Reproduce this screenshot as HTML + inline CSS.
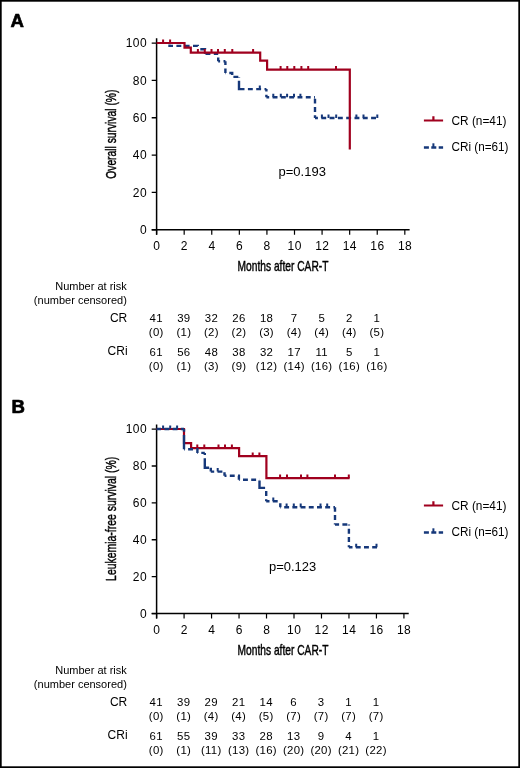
<!DOCTYPE html>
<html><head><meta charset="utf-8"><style>
html,body{margin:0;padding:0;background:#fff;}
body{width:520px;height:768px;overflow:hidden;}
svg{display:block;will-change:transform;}
text{font-family:"Liberation Sans", sans-serif;fill:#000;}
.cond{stroke:#000;stroke-width:0.45px;}
</style></head><body>
<svg width="520" height="768" viewBox="0 0 520 768">
<rect x="0" y="0" width="520" height="768" fill="#fff"/>
<rect x="0.85" y="0.85" width="518.3" height="766.3" fill="none" stroke="#000" stroke-width="1.7"/>
<text x="10.6" y="26.75" font-size="18.6" font-weight="bold" stroke="#000" stroke-width="0.7" stroke-linejoin="round">A</text>
<path d="M156.6 38.349999999999994 V234.70000000000002 M151.7 229.8 H409.61999999999995" stroke="#000" stroke-width="1.5" fill="none"/>
<path d="M151.7 229.80 H156.6 M151.7 192.45 H156.6 M151.7 155.10 H156.6 M151.7 117.75 H156.6 M151.7 80.40 H156.6 M151.7 43.05 H156.6 " stroke="#000" stroke-width="1.3" fill="none"/>
<path d="M156.60 229.8 V234.70000000000002 M184.18 229.8 V234.70000000000002 M211.76 229.8 V234.70000000000002 M239.34 229.8 V234.70000000000002 M266.92 229.8 V234.70000000000002 M294.50 229.8 V234.70000000000002 M322.08 229.8 V234.70000000000002 M349.66 229.8 V234.70000000000002 M377.24 229.8 V234.70000000000002 M404.82 229.8 V234.70000000000002 " stroke="#000" stroke-width="1.2" fill="none"/>
<text x="147.0" y="234.10" font-size="12" letter-spacing="0.4" text-anchor="end">0</text>
<text x="147.0" y="196.75" font-size="12" letter-spacing="0.4" text-anchor="end">20</text>
<text x="147.0" y="159.40" font-size="12" letter-spacing="0.4" text-anchor="end">40</text>
<text x="147.0" y="122.05" font-size="12" letter-spacing="0.4" text-anchor="end">60</text>
<text x="147.0" y="84.70" font-size="12" letter-spacing="0.4" text-anchor="end">80</text>
<text x="147.0" y="47.35" font-size="12" letter-spacing="0.4" text-anchor="end">100</text>
<text x="156.80" y="250.30" font-size="12" letter-spacing="0.4" text-anchor="middle">0</text>
<text x="184.38" y="250.30" font-size="12" letter-spacing="0.4" text-anchor="middle">2</text>
<text x="211.96" y="250.30" font-size="12" letter-spacing="0.4" text-anchor="middle">4</text>
<text x="239.54" y="250.30" font-size="12" letter-spacing="0.4" text-anchor="middle">6</text>
<text x="267.12" y="250.30" font-size="12" letter-spacing="0.4" text-anchor="middle">8</text>
<text x="294.70" y="250.30" font-size="12" letter-spacing="0.4" text-anchor="middle">10</text>
<text x="322.28" y="250.30" font-size="12" letter-spacing="0.4" text-anchor="middle">12</text>
<text x="349.86" y="250.30" font-size="12" letter-spacing="0.4" text-anchor="middle">14</text>
<text x="377.44" y="250.30" font-size="12" letter-spacing="0.4" text-anchor="middle">16</text>
<text x="405.02" y="250.30" font-size="12" letter-spacing="0.4" text-anchor="middle">18</text>
<text x="237.6" y="270.70" font-size="15" textLength="90.8" lengthAdjust="spacingAndGlyphs" class="cond">Months after CAR-T</text>
<text transform="translate(116.2 178.75) rotate(-90)" x="0" y="0" font-size="15.2" textLength="89.15" lengthAdjust="spacingAndGlyphs" class="cond">Overall survival (%)</text>
<text x="278.5" y="176.0" font-size="12" textLength="47.4" lengthAdjust="spacingAndGlyphs">p=0.193</text>
<path d="M423.9 120.5 H443.1 M433.4 120.5 V116.3" stroke="#a0001e" stroke-width="2.2" fill="none"/>
<path d="M423.9 147.5 H443.1" stroke="#16387a" stroke-width="2.4" stroke-dasharray="5 2.4" fill="none"/>
<path d="M433.4 147.5 V143.3" stroke="#16387a" stroke-width="2" fill="none"/>
<text x="451.5" y="124.6" font-size="12" textLength="55" lengthAdjust="spacingAndGlyphs">CR (n=41)</text>
<text x="451.5" y="151.2" font-size="12" textLength="57" lengthAdjust="spacingAndGlyphs">CRi (n=61)</text>
<text x="126.8" y="289.6" font-size="11" text-anchor="end">Number at risk</text>
<text x="126.8" y="303.8" font-size="11" text-anchor="end">(number censored)</text>
<text x="127.3" y="321.5" font-size="12" text-anchor="end">CR</text>
<text x="127.6" y="355.2" font-size="12" text-anchor="end">CRi</text>
<text x="156.25" y="321.80" font-size="11.4" letter-spacing="0.3" text-anchor="middle">41</text>
<text x="183.83" y="321.80" font-size="11.4" letter-spacing="0.3" text-anchor="middle">39</text>
<text x="211.41" y="321.80" font-size="11.4" letter-spacing="0.3" text-anchor="middle">32</text>
<text x="238.99" y="321.80" font-size="11.4" letter-spacing="0.3" text-anchor="middle">26</text>
<text x="266.57" y="321.80" font-size="11.4" letter-spacing="0.3" text-anchor="middle">18</text>
<text x="294.15" y="321.80" font-size="11.4" letter-spacing="0.3" text-anchor="middle">7</text>
<text x="321.73" y="321.80" font-size="11.4" letter-spacing="0.3" text-anchor="middle">5</text>
<text x="349.31" y="321.80" font-size="11.4" letter-spacing="0.3" text-anchor="middle">2</text>
<text x="376.89" y="321.80" font-size="11.4" letter-spacing="0.3" text-anchor="middle">1</text>
<text x="156.25" y="335.80" font-size="11.4" letter-spacing="0.3" text-anchor="middle">(0)</text>
<text x="183.83" y="335.80" font-size="11.4" letter-spacing="0.3" text-anchor="middle">(1)</text>
<text x="211.41" y="335.80" font-size="11.4" letter-spacing="0.3" text-anchor="middle">(2)</text>
<text x="238.99" y="335.80" font-size="11.4" letter-spacing="0.3" text-anchor="middle">(2)</text>
<text x="266.57" y="335.80" font-size="11.4" letter-spacing="0.3" text-anchor="middle">(3)</text>
<text x="294.15" y="335.80" font-size="11.4" letter-spacing="0.3" text-anchor="middle">(4)</text>
<text x="321.73" y="335.80" font-size="11.4" letter-spacing="0.3" text-anchor="middle">(4)</text>
<text x="349.31" y="335.80" font-size="11.4" letter-spacing="0.3" text-anchor="middle">(4)</text>
<text x="376.89" y="335.80" font-size="11.4" letter-spacing="0.3" text-anchor="middle">(5)</text>
<text x="156.25" y="355.80" font-size="11.4" letter-spacing="0.3" text-anchor="middle">61</text>
<text x="183.83" y="355.80" font-size="11.4" letter-spacing="0.3" text-anchor="middle">56</text>
<text x="211.41" y="355.80" font-size="11.4" letter-spacing="0.3" text-anchor="middle">48</text>
<text x="238.99" y="355.80" font-size="11.4" letter-spacing="0.3" text-anchor="middle">38</text>
<text x="266.57" y="355.80" font-size="11.4" letter-spacing="0.3" text-anchor="middle">32</text>
<text x="294.15" y="355.80" font-size="11.4" letter-spacing="0.3" text-anchor="middle">17</text>
<text x="321.73" y="355.80" font-size="11.4" letter-spacing="0.3" text-anchor="middle">11</text>
<text x="349.31" y="355.80" font-size="11.4" letter-spacing="0.3" text-anchor="middle">5</text>
<text x="376.89" y="355.80" font-size="11.4" letter-spacing="0.3" text-anchor="middle">1</text>
<text x="156.25" y="369.70" font-size="11.4" letter-spacing="0.3" text-anchor="middle">(0)</text>
<text x="183.83" y="369.70" font-size="11.4" letter-spacing="0.3" text-anchor="middle">(1)</text>
<text x="211.41" y="369.70" font-size="11.4" letter-spacing="0.3" text-anchor="middle">(3)</text>
<text x="238.99" y="369.70" font-size="11.4" letter-spacing="0.3" text-anchor="middle">(9)</text>
<text x="266.57" y="369.70" font-size="11.4" letter-spacing="0.3" text-anchor="middle">(12)</text>
<text x="294.15" y="369.70" font-size="11.4" letter-spacing="0.3" text-anchor="middle">(14)</text>
<text x="321.73" y="369.70" font-size="11.4" letter-spacing="0.3" text-anchor="middle">(16)</text>
<text x="349.31" y="369.70" font-size="11.4" letter-spacing="0.3" text-anchor="middle">(16)</text>
<text x="376.89" y="369.70" font-size="11.4" letter-spacing="0.3" text-anchor="middle">(16)</text>
<path d="M169.50 44.50 L169.50 45.90 L173.00 45.90 M176.40 45.90 L181.30 45.90 M184.70 45.90 L189.60 45.90 M193.00 45.90 L197.80 45.90 L197.80 46.00 M200.30 49.30 L205.00 49.30 L205.00 49.50 M205.00 52.90 L205.00 53.90 M205.50 53.90 L210.40 53.90 M213.80 53.90 L218.20 53.90 M218.20 53.90 L218.20 54.10 M218.20 57.50 L218.20 61.20 M218.20 61.20 L220.10 61.20 M223.50 61.20 L225.40 61.20 M225.40 61.20 L225.40 65.10 M225.40 68.50 L225.40 73.00 M225.40 73.00 L225.90 73.00 M229.30 73.00 L232.20 73.00 L232.20 75.00 M233.40 76.90 L238.30 76.90 M239.00 76.90 L239.00 77.40 M239.00 80.80 L239.00 85.70 M239.60 89.10 L244.50 89.10 M247.90 89.10 L252.80 89.10 M256.20 89.10 L261.10 89.10 M264.50 89.10 L266.40 89.10 M266.40 89.10 L266.40 91.40 M266.40 94.80 L266.40 97.30 M266.40 97.30 L269.20 97.30 M272.60 97.30 L277.50 97.30 M280.90 97.30 L285.80 97.30 M289.20 97.30 L294.10 97.30 M297.50 97.30 L302.40 97.30 M305.80 97.30 L310.70 97.30 M314.10 97.30 L315.00 97.30 M315.00 98.70 L315.00 103.60 M315.00 107.00 L315.00 111.90 M315.00 115.30 L315.00 118.00 M315.00 118.00 L317.90 118.00 M321.30 118.00 L326.20 118.00 M329.60 118.00 L334.50 118.00 M337.90 118.00 L342.80 118.00 M346.20 118.00 L351.10 118.00 M354.50 118.00 L359.40 118.00 M362.80 118.00 L367.70 118.00 M371.10 118.00 L376.00 118.00 M239 80.8 V89.1 H244.1 " stroke="#16387a" stroke-width="2.4" fill="none" stroke-linejoin="miter"/>
<path d="M259.8 89.1 V85.5 M273.3 97.3 V93.7 M280.8 97.3 V93.7 M287.1 97.3 V93.7 M294 97.3 V93.7 M300.4 97.3 V93.7 M321.9 118 V114.4 M328.5 118 V114.4 M336.2 118 V114.4 M356.4 118 V114.4 M363.5 118 V114.4 M377.3 118 V114.4 " stroke="#16387a" stroke-width="2" fill="none"/>
<path d="M156.6 43 H184.5 V47.6 H190.8 V52.6 H260.2 V60.6 H267.1 V69.7 H349.8 V149.5" stroke="#a0001e" stroke-width="2.2" fill="none" stroke-linejoin="miter"/>
<path d="M163.1 43 V39.4 M170.1 43 V39.4 M197.9 52.6 V49.0 M204.8 52.6 V49.0 M211.5 52.6 V49.0 M218 52.6 V49.0 M224.8 52.6 V49.0 M232.3 52.6 V49.0 M253.1 52.6 V49.0 M280.6 69.7 V66.10000000000001 M287.3 69.7 V66.10000000000001 M294.3 69.7 V66.10000000000001 M301.4 69.7 V66.10000000000001 M308.2 69.7 V66.10000000000001 M336 69.7 V66.10000000000001 " stroke="#a0001e" stroke-width="2" fill="none"/>
<text x="11.6" y="412.7" font-size="18.6" font-weight="bold" stroke="#000" stroke-width="0.7" stroke-linejoin="round">B</text>
<path d="M156.6 424.40000000000003 V618.4499999999999 M151.7 613.55 H408.71999999999997" stroke="#000" stroke-width="1.5" fill="none"/>
<path d="M151.7 613.55 H156.6 M151.7 576.66 H156.6 M151.7 539.77 H156.6 M151.7 502.88 H156.6 M151.7 465.99 H156.6 M151.7 429.10 H156.6 " stroke="#000" stroke-width="1.3" fill="none"/>
<path d="M156.60 613.55 V618.4499999999999 M184.08 613.55 V618.4499999999999 M211.56 613.55 V618.4499999999999 M239.04 613.55 V618.4499999999999 M266.52 613.55 V618.4499999999999 M294.00 613.55 V618.4499999999999 M321.48 613.55 V618.4499999999999 M348.96 613.55 V618.4499999999999 M376.44 613.55 V618.4499999999999 M403.92 613.55 V618.4499999999999 " stroke="#000" stroke-width="1.2" fill="none"/>
<text x="147.0" y="617.85" font-size="12" letter-spacing="0.4" text-anchor="end">0</text>
<text x="147.0" y="580.96" font-size="12" letter-spacing="0.4" text-anchor="end">20</text>
<text x="147.0" y="544.07" font-size="12" letter-spacing="0.4" text-anchor="end">40</text>
<text x="147.0" y="507.18" font-size="12" letter-spacing="0.4" text-anchor="end">60</text>
<text x="147.0" y="470.29" font-size="12" letter-spacing="0.4" text-anchor="end">80</text>
<text x="147.0" y="433.40" font-size="12" letter-spacing="0.4" text-anchor="end">100</text>
<text x="156.80" y="634.05" font-size="12" letter-spacing="0.4" text-anchor="middle">0</text>
<text x="184.28" y="634.05" font-size="12" letter-spacing="0.4" text-anchor="middle">2</text>
<text x="211.76" y="634.05" font-size="12" letter-spacing="0.4" text-anchor="middle">4</text>
<text x="239.24" y="634.05" font-size="12" letter-spacing="0.4" text-anchor="middle">6</text>
<text x="266.72" y="634.05" font-size="12" letter-spacing="0.4" text-anchor="middle">8</text>
<text x="294.20" y="634.05" font-size="12" letter-spacing="0.4" text-anchor="middle">10</text>
<text x="321.68" y="634.05" font-size="12" letter-spacing="0.4" text-anchor="middle">12</text>
<text x="349.16" y="634.05" font-size="12" letter-spacing="0.4" text-anchor="middle">14</text>
<text x="376.64" y="634.05" font-size="12" letter-spacing="0.4" text-anchor="middle">16</text>
<text x="404.12" y="634.05" font-size="12" letter-spacing="0.4" text-anchor="middle">18</text>
<text x="237.6" y="655.10" font-size="15" textLength="90.8" lengthAdjust="spacingAndGlyphs" class="cond">Months after CAR-T</text>
<text transform="translate(116.2 580.90) rotate(-90)" x="0" y="0" font-size="15.2" textLength="124.10" lengthAdjust="spacingAndGlyphs" class="cond">Leukemia-free survival (%)</text>
<text x="269.0" y="571.0" font-size="12" textLength="47.2" lengthAdjust="spacingAndGlyphs">p=0.123</text>
<path d="M423.9 505.5 H443.1 M433.4 505.5 V501.3" stroke="#a0001e" stroke-width="2.2" fill="none"/>
<path d="M423.9 532.5 H443.1" stroke="#16387a" stroke-width="2.4" stroke-dasharray="5 2.4" fill="none"/>
<path d="M433.4 532.5 V528.3" stroke="#16387a" stroke-width="2" fill="none"/>
<text x="451.5" y="509.6" font-size="12" textLength="55" lengthAdjust="spacingAndGlyphs">CR (n=41)</text>
<text x="451.5" y="536.2" font-size="12" textLength="57" lengthAdjust="spacingAndGlyphs">CRi (n=61)</text>
<text x="126.8" y="673.6" font-size="11" text-anchor="end">Number at risk</text>
<text x="126.8" y="687.8" font-size="11" text-anchor="end">(number censored)</text>
<text x="127.3" y="705.5" font-size="12" text-anchor="end">CR</text>
<text x="127.6" y="739.2" font-size="12" text-anchor="end">CRi</text>
<text x="156.25" y="705.80" font-size="11.4" letter-spacing="0.3" text-anchor="middle">41</text>
<text x="183.73" y="705.80" font-size="11.4" letter-spacing="0.3" text-anchor="middle">39</text>
<text x="211.21" y="705.80" font-size="11.4" letter-spacing="0.3" text-anchor="middle">29</text>
<text x="238.69" y="705.80" font-size="11.4" letter-spacing="0.3" text-anchor="middle">21</text>
<text x="266.17" y="705.80" font-size="11.4" letter-spacing="0.3" text-anchor="middle">14</text>
<text x="293.65" y="705.80" font-size="11.4" letter-spacing="0.3" text-anchor="middle">6</text>
<text x="321.13" y="705.80" font-size="11.4" letter-spacing="0.3" text-anchor="middle">3</text>
<text x="348.61" y="705.80" font-size="11.4" letter-spacing="0.3" text-anchor="middle">1</text>
<text x="376.09" y="705.80" font-size="11.4" letter-spacing="0.3" text-anchor="middle">1</text>
<text x="156.25" y="719.80" font-size="11.4" letter-spacing="0.3" text-anchor="middle">(0)</text>
<text x="183.73" y="719.80" font-size="11.4" letter-spacing="0.3" text-anchor="middle">(1)</text>
<text x="211.21" y="719.80" font-size="11.4" letter-spacing="0.3" text-anchor="middle">(4)</text>
<text x="238.69" y="719.80" font-size="11.4" letter-spacing="0.3" text-anchor="middle">(4)</text>
<text x="266.17" y="719.80" font-size="11.4" letter-spacing="0.3" text-anchor="middle">(5)</text>
<text x="293.65" y="719.80" font-size="11.4" letter-spacing="0.3" text-anchor="middle">(7)</text>
<text x="321.13" y="719.80" font-size="11.4" letter-spacing="0.3" text-anchor="middle">(7)</text>
<text x="348.61" y="719.80" font-size="11.4" letter-spacing="0.3" text-anchor="middle">(7)</text>
<text x="376.09" y="719.80" font-size="11.4" letter-spacing="0.3" text-anchor="middle">(7)</text>
<text x="156.25" y="739.80" font-size="11.4" letter-spacing="0.3" text-anchor="middle">61</text>
<text x="183.73" y="739.80" font-size="11.4" letter-spacing="0.3" text-anchor="middle">55</text>
<text x="211.21" y="739.80" font-size="11.4" letter-spacing="0.3" text-anchor="middle">39</text>
<text x="238.69" y="739.80" font-size="11.4" letter-spacing="0.3" text-anchor="middle">33</text>
<text x="266.17" y="739.80" font-size="11.4" letter-spacing="0.3" text-anchor="middle">28</text>
<text x="293.65" y="739.80" font-size="11.4" letter-spacing="0.3" text-anchor="middle">13</text>
<text x="321.13" y="739.80" font-size="11.4" letter-spacing="0.3" text-anchor="middle">9</text>
<text x="348.61" y="739.80" font-size="11.4" letter-spacing="0.3" text-anchor="middle">4</text>
<text x="376.09" y="739.80" font-size="11.4" letter-spacing="0.3" text-anchor="middle">1</text>
<text x="156.25" y="753.70" font-size="11.4" letter-spacing="0.3" text-anchor="middle">(0)</text>
<text x="183.73" y="753.70" font-size="11.4" letter-spacing="0.3" text-anchor="middle">(1)</text>
<text x="211.21" y="753.70" font-size="11.4" letter-spacing="0.3" text-anchor="middle">(11)</text>
<text x="238.69" y="753.70" font-size="11.4" letter-spacing="0.3" text-anchor="middle">(13)</text>
<text x="266.17" y="753.70" font-size="11.4" letter-spacing="0.3" text-anchor="middle">(16)</text>
<text x="293.65" y="753.70" font-size="11.4" letter-spacing="0.3" text-anchor="middle">(20)</text>
<text x="321.13" y="753.70" font-size="11.4" letter-spacing="0.3" text-anchor="middle">(20)</text>
<text x="348.61" y="753.70" font-size="11.4" letter-spacing="0.3" text-anchor="middle">(21)</text>
<text x="376.09" y="753.70" font-size="11.4" letter-spacing="0.3" text-anchor="middle">(22)</text>
<path d="M156.5 429 H184 V443.2 H191.1 V448.1 H239.1 V456.1 H266.4 V478.2 H349.6" stroke="#a0001e" stroke-width="2.2" fill="none" stroke-linejoin="miter"/>
<path d="M197.3 448.1 V444.5 M204.3 448.1 V444.5 M218.5 448.1 V444.5 M225 448.1 V444.5 M231.9 448.1 V444.5 M252.7 456.1 V452.5 M259.4 456.1 V452.5 M280.1 478.2 V474.59999999999997 M287 478.2 V474.59999999999997 M301 478.2 V474.59999999999997 M307.4 478.2 V474.59999999999997 M335 478.2 V474.59999999999997 M348.8 478.2 V474.59999999999997 " stroke="#a0001e" stroke-width="2" fill="none"/>
<path d="M156.50 429.00 L161.10 429.00 M164.40 429.00 L169.30 429.00 M172.60 429.00 L177.50 429.00 M180.80 429.00 L184.00 429.00 M184.00 429.00 L184.00 431.80 M184.00 435.10 L184.00 440.00 M184.00 443.30 L184.00 448.20 M184.00 449.20 L184.80 449.20 M188.10 449.20 L193.00 449.20 M196.30 449.20 L197.40 449.20 L197.40 452.90 M197.40 452.90 L198.00 452.90 M201.30 452.90 L204.80 452.90 M204.80 452.90 L204.80 454.90 M204.80 458.20 L204.80 463.10 M204.80 466.40 L204.80 467.80 L208.30 467.80 M210.80 467.80 L210.80 471.60 M210.80 471.60 L214.20 471.60 M217.50 471.60 L222.40 471.60 M224.50 472.30 L224.50 475.80 M224.50 475.80 L226.50 475.80 M229.80 475.80 L234.70 475.80 M238.00 475.80 L238.90 475.80 L238.90 479.70 M238.90 479.70 L239.70 479.70 M243.00 479.70 L247.90 479.70 M251.20 479.70 L256.10 479.70 M259.40 479.70 L259.50 479.70 M259.50 480.40 L259.50 485.30 M260.20 487.90 L265.10 487.90 M266.20 491.10 L266.20 496.00 M266.20 499.30 L266.20 501.20 M266.20 501.20 L269.50 501.20 M272.80 501.20 L277.70 501.20 M280.30 503.30 L280.30 507.20 M280.30 507.20 L280.90 507.20 M284.20 507.20 L289.10 507.20 M292.40 507.20 L297.30 507.20 M300.60 507.20 L305.50 507.20 M308.80 507.20 L313.70 507.20 M317.00 507.20 L321.90 507.20 M325.20 507.20 L330.10 507.20 M333.40 507.20 L335.00 507.20 M335.00 507.20 L335.00 511.70 M335.00 515.00 L335.00 519.90 M335.00 523.20 L335.00 524.50 M335.00 524.50 L339.10 524.50 M342.40 524.50 L347.30 524.50 M348.90 524.50 L348.90 525.50 M348.90 528.80 L348.90 533.70 M348.90 537.00 L348.90 541.90 M348.90 545.20 L348.90 547.30 M348.90 547.30 L352.50 547.30 M355.80 547.30 L360.70 547.30 M364.00 547.30 L368.90 547.30 M372.20 547.30 L377.00 547.30 M184 435.1 V449.2 M204.8 458.2 V467.8 H209.1 M259.5 480.4 V487.9 H264.8 " stroke="#16387a" stroke-width="2.4" fill="none" stroke-linejoin="miter"/>
<path d="M163.1 429 V425.4 M170.2 429 V425.4 M177.1 429 V425.4 M217.7 471.6 V468.0 M273.3 501.2 V497.59999999999997 M286.6 507.2 V503.59999999999997 M293.8 507.2 V503.59999999999997 M300.7 507.2 V503.59999999999997 M320.5 507.2 V503.59999999999997 M327.2 507.2 V503.59999999999997 M356.2 547.3 V543.6999999999999 M376.5 547.3 V543.6999999999999 " stroke="#16387a" stroke-width="2" fill="none"/>
</svg>
</body></html>
